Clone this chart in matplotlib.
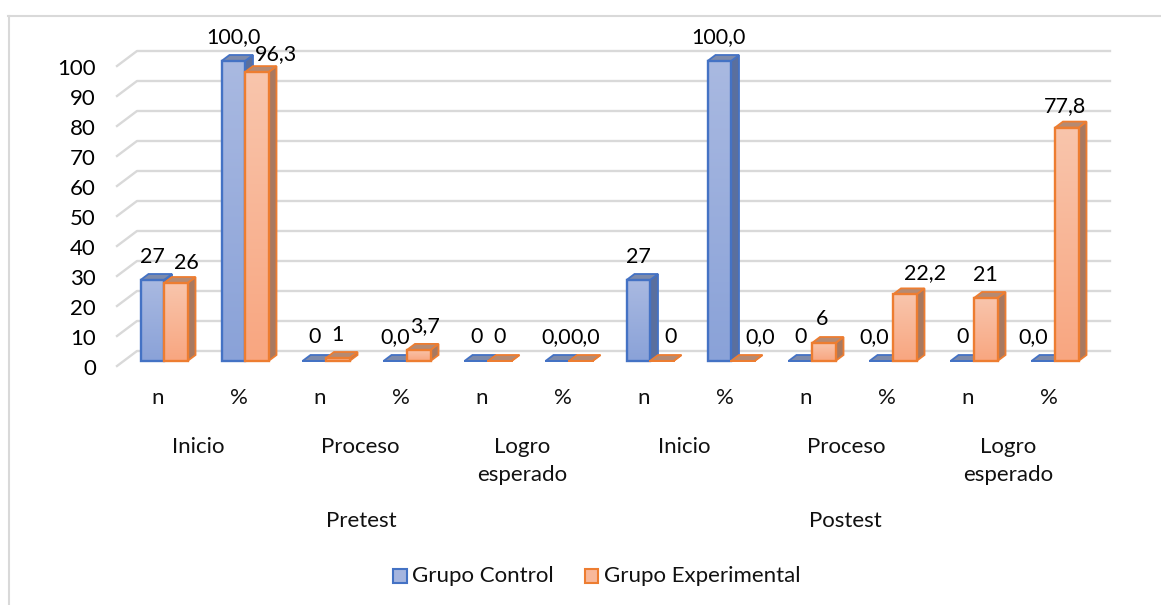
import numpy as np
import matplotlib
matplotlib.use('Agg')
from matplotlib import pyplot as plt
from matplotlib.patches import Polygon, Rectangle

# datos
medidas = ['n', '%'] * 6
niveles = ['Inicio', 'Proceso', 'Logro\nesperado', 'Inicio', 'Proceso', 'Logro\nesperado']
fases = ['Pretest', 'Postest']
control = [27, 100.0, 0, 0.0, 0, 0.0, 27, 100.0, 0, 0.0, 0, 0.0]
experimental = [26, 96.3, 1, 3.7, 0, 0.0, 0, 0.0, 6, 22.2, 21, 77.8]
etiq_control = ['27', '100,0', '0', '0,0', '0', '0,0', '27', '100,0', '0', '0,0', '0', '0,0']
etiq_exp = ['26', '96,3', '1', '3,7', '0', '0,0', '0', '0,0', '6', '22,2', '21', '77,8']
yticks = list(range(0, 101, 10))

W, H = 1161, 605
plt.rcParams['font.family'] = ['Lato', 'DejaVu Sans']
fig = plt.figure(figsize=(W / 100, H / 100), dpi=100)
ax = fig.add_axes([0, 0, 1, 1])
# ejes en pixeles en x; y en valores del grafico
px_unit = 3.0
base_y = 361.0
ax.axis('off')


def py(pix):
    # pixel de la imagen -> valor y
    return (base_y - pix) / px_unit


# marco
ax.plot([8.5, 8.5], [py(605), py(16)], color='#D9D9D9', lw=1.5)
ax.plot([8, 1161], [py(16), py(16)], color='#D9D9D9', lw=1.5)

# rejilla con perspectiva
for v in yticks:
    ax.plot([117, 137, 1110], [py(366) + v, py(351) + v, py(351) + v], color='#D9D9D9', lw=1.7, zorder=1)
    ax.text(96, py(369) + v, str(v), ha='right', va='center', fontsize=16, color='black')

ancho = 23.5
dx, dy = 8, 6 / px_unit
ax_colors = [('#4472C4', '#A9B9E1', '#8AA2D8', '#7C8AAB', '#5A6F9E'),
             ('#ED7D31', '#F9C5AC', '#F8A680', '#B58A72', '#A87960')]
# ajuste a mano de las etiquetas (pixeles), para que no se pisen igual que en el original
nudge_x = [[0, 0, 0, 0, 0, -1, 0, -1, 0, -7, 0, -10],
           [11, 19, 0, 6, 0, 4, 9, 17, -2, 20, 0, -2]]
nudge_y = [[23, 24, 24, 24, 24, 24, 23, 24, 24, 24, 24, 24],
           [20, 18, 23, 24, 24, 24, 24, 24, 24, 21, 23, 22]]

for i in range(len(control)):
    xc = 164 + 81 * i
    for k, (vals, labs) in enumerate(((control, etiq_control), (experimental, etiq_exp))):
        v = vals[i]
        x0 = xc - ancho + k * ancho
        x1 = x0 + ancho
        edge, top, bottom, tapa, lado = ax_colors[k]
        z = 6 + k
        # lado y tapa
        ax.add_patch(Polygon([(x1, 0), (x1 + dx, dy), (x1 + dx, v + dy), (x1, v)], fc=lado, ec=edge, lw=1.3, zorder=z))
        ax.add_patch(Polygon([(x0, v), (x0 + dx, v + dy), (x1 + dx, v + dy), (x1, v)], fc=tapa, ec=edge, lw=1.3, zorder=z))
        if v > 0:
            col = np.array([matplotlib.colors.to_rgb(top), matplotlib.colors.to_rgb(bottom)])
            t = np.linspace(0, 1, 64)[:, None]
            img = (col[0] * (1 - t) + col[1] * t)[:, None, :]
            ax.imshow(img, extent=(x0, x1, 0, v), aspect='auto', zorder=z, interpolation='bilinear')
            ax.add_patch(Rectangle((x0, 0), ancho, v, fc='none', ec=edge, lw=1.7, zorder=z + 0.5))
        else:
            ax.plot([x0, x1], [0, 0], color=edge, lw=1.4, zorder=z + 0.5)
        ax.text((x0 + x1) / 2 + nudge_x[k][i], v + nudge_y[k][i] / px_unit, labs[i], ha='center', va='center',
                fontsize=15.5, color='black', zorder=12)
    ax.text(158 + 81 * i, py(398), medidas[i], ha='center', va='center', fontsize=16, color='#111111')

ax.set_xlim(0, W)
ax.set_ylim((base_y - H) / px_unit, base_y / px_unit)

for j, nivel in enumerate(niveles):
    ax.text(198.5 + 162 * j, py(447 if '\n' not in nivel else 461), nivel, ha='center', va='center',
            fontsize=16, color='#111111', linespacing=1.5)
ax.text(361, py(521), fases[0], ha='center', va='center', fontsize=16, color='#111111')
ax.text(845, py(521), fases[1], ha='center', va='center', fontsize=16, color='#111111')

# leyenda
ax.add_patch(Rectangle((393, py(582.5)), 13.5, 14 / px_unit, fc='#A5B5DF', ec='#4472C4', lw=1.5))
ax.text(412, py(576), 'Grupo Control', ha='left', va='center', fontsize=16, color='#111111')
ax.add_patch(Rectangle((584.5, py(582.5)), 13.5, 14 / px_unit, fc='#F8B89A', ec='#ED7D31', lw=1.5))
ax.text(603.5, py(576), 'Grupo Experimental', ha='left', va='center', fontsize=16, color='#111111')

fig.savefig('out.png', dpi=100)
